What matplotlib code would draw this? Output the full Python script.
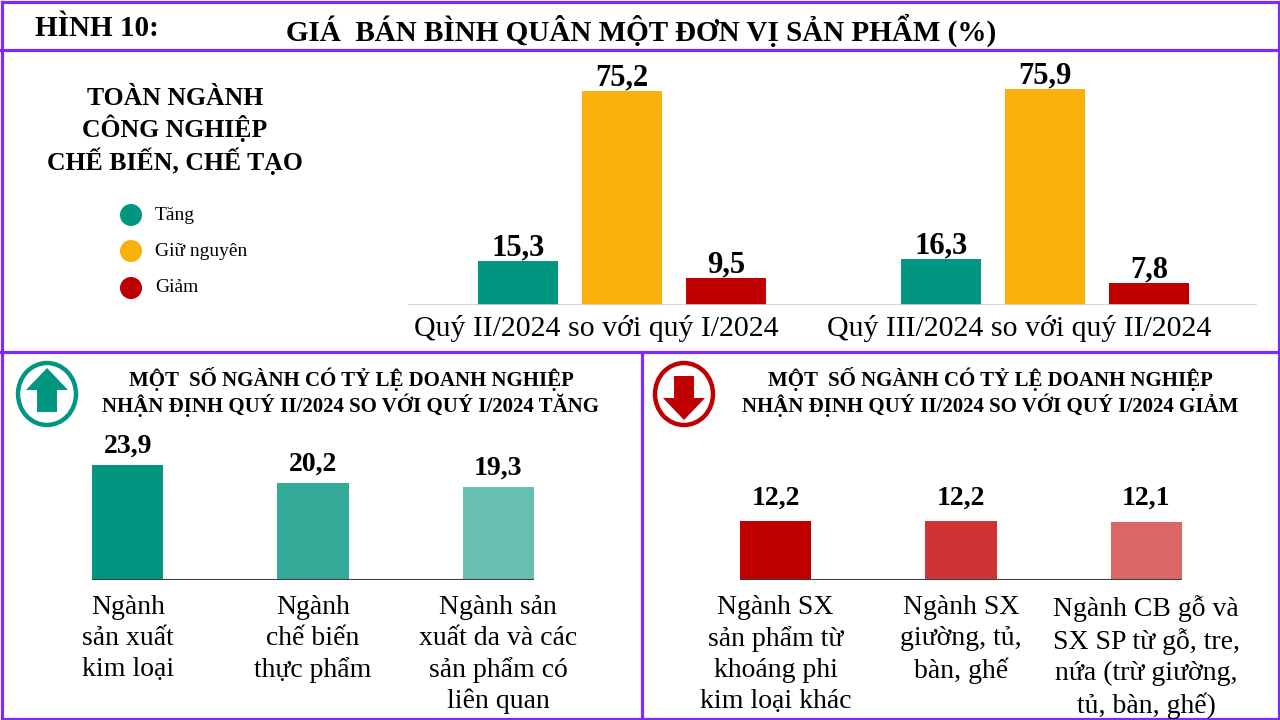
import matplotlib
matplotlib.use("Agg")
import matplotlib.pyplot as plt
from matplotlib.patches import Ellipse, Circle, Polygon
import numpy as np

plt.rcParams['font.family'] = ['Liberation Serif', 'DejaVu Serif']

# ---- data ----
periods = ["Quý II/2024 so với quý I/2024", "Quý III/2024 so với quý II/2024"]
tang = [15.3, 16.3]
giu_nguyen = [75.2, 75.9]
giam = [9.5, 7.8]
series_names = ["Tăng", "Giữ nguyên", "Giảm"]

up_labels = ["Ngành\nsản xuất\nkim loại", "Ngành\nchế biến\nthực phẩm",
             "Ngành sản\nxuất da và các\nsản phẩm có\nliên quan"]
up_values = [23.9, 20.2, 19.3]
down_labels = ["Ngành SX\nsản phẩm từ\nkhoáng phi\nkim loại khác", "Ngành SX\ngiường, tủ,\nbàn, ghế",
               "Ngành CB gỗ và\nSX SP từ gỗ, tre,\nnứa (trừ giường,\ntủ, bàn, ghế)"]
down_values = [12.2, 12.2, 12.1]

TEAL = "#009680"
ORANGE = "#F9B00C"
RED = "#C00000"
PURPLE = "#7A2BFF"
up_colors = ["#009680", "#35AA98", "#66BFB1"]
down_colors = ["#C00000", "#CF3333", "#DA6666"]

W, H = 1280, 720
fig = plt.figure(figsize=(12.8, 7.2), dpi=100)

def px_axes(x0, x1, ytop, ybot):
    return fig.add_axes([x0 / W, (H - ybot) / H, (x1 - x0) / W, (ybot - ytop) / H])

# overlay in pixel coords for frame, titles, icons
ov = fig.add_axes([0, 0, 1, 1])
ov.set_xlim(0, W)
ov.set_ylim(H, 0)
ov.axis("off")
lw = 2.3
ov.plot([1.5, W - 1.5, W - 1.5, 1.5, 1.5], [1.5, 1.5, H - 1.5, H - 1.5, 1.5], color=PURPLE, lw=lw)
ov.plot([0, W], [50, 50], color=PURPLE, lw=lw)
ov.plot([0, W], [352, 352], color=PURPLE, lw=lw)
ov.plot([642, 642], [352, H], color=PURPLE, lw=lw)

ov.text(35, 29, "HÌNH 10:", fontsize=21, fontweight="bold", ha="left", va="center")
ov.text(641, 30, "GIÁ  BÁN BÌNH QUÂN MỘT ĐƠN VỊ SẢN PHẨM (%)", fontsize=21,
        fontweight="bold", ha="center", va="center")

ov.text(175, 131, "TOÀN NGÀNH\nCÔNG NGHIỆP\nCHẾ BIẾN, CHẾ TẠO", fontsize=18.5,
        fontweight="bold", ha="center", va="center", linespacing=1.22)

for name, col, yy in zip(series_names, [TEAL, ORANGE, RED], [215, 251, 288]):
    ov.add_patch(Circle((131, yy), 11, color=col, lw=0))
    ov.text(155, yy, name, fontsize=14, ha="left", va="center")

sub = "MỘT  SỐ NGÀNH CÓ TỶ LỆ DOANH NGHIỆP\nNHẬN ĐỊNH QUÝ II/2024 SO VỚI QUÝ I/2024 "
ov.text(351, 392, sub + "TĂNG", fontsize=15, fontweight="bold", ha="center", va="center",
        linespacing=1.15)
ov.text(990, 392, sub + "GIẢM", fontsize=15, fontweight="bold", ha="center", va="center",
        linespacing=1.15)

def icon(cx, cy, col, up):
    ov.add_patch(Ellipse((cx, cy), 58, 62, fill=False, ec=col, lw=3.2))
    s = -1 if up else 1
    pts = [(cx - 10, cy - 18 * s), (cx + 10, cy - 18 * s), (cx + 10, cy + 4 * s),
           (cx + 21, cy + 4 * s), (cx, cy + 26 * s), (cx - 21, cy + 4 * s), (cx - 10, cy + 4 * s)]
    ov.add_patch(Polygon(pts, closed=True, color=col, lw=0))

icon(47, 394, TEAL, True)
icon(684, 394, RED, False)

# ---- top chart ----
ax = px_axes(408, 1257, 55, 305)
x = np.arange(len(periods))
bw, off = 0.189, 0.246
for vals, col, dx in zip([tang, giu_nguyen, giam], [TEAL, ORANGE, RED], [-off, 0, off]):
    bars = ax.bar(x + dx, vals, width=bw, color=col, zorder=2)
    for b, v in zip(bars, vals):
        ax.annotate(f"{v:.1f}".replace(".", ","), (b.get_x() + b.get_width() / 2, v),
                    xytext=(0, 4), textcoords="offset points", ha="center", va="baseline",
                    fontsize=22, fontweight="bold")
ax.set_xlim(-0.506, 1.501)
ax.set_ylim(0, 87.8)
ax.axhline(0, color="#D0D0D0", lw=1.2, zorder=3)
for xi, lab in zip(x, periods):
    ax.annotate(lab, (xi - 0.062, 0), xycoords=("data", "axes fraction"), xytext=(0, -17),
                textcoords="offset points", ha="center", va="center", fontsize=21.5)
ax.axis("off")

# ---- bottom charts ----
def small_chart(x0, x1, labels, vals, cols, gap):
    a = px_axes(x0, x1, 440, 580)
    xs = np.arange(len(vals))
    w = 0.385
    bars = a.bar(xs, vals, width=w, color=cols, zorder=2)
    for b, v in zip(bars, vals):
        a.annotate(f"{v:.1f}".replace(".", ","), (b.get_x() + w / 2, v), xytext=(0, gap),
                   textcoords="offset points", ha="center", va="baseline",
                   fontsize=20, fontweight="bold")
    for xi, lab in zip(xs, labels):
        a.annotate(lab, (xi, 0), xycoords=("data", "axes fraction"), xytext=(0, -11),
                   textcoords="offset points", ha="center", va="top", fontsize=20,
                   linespacing=1.3)
    a.set_xlim(-w / 2, len(vals) - 1 + w / 2)
    a.set_ylim(0, 29.1)
    a.axhline(0, color="#404040", lw=1.5, zorder=3)
    a.axis("off")

small_chart(92, 534, up_labels, up_values, up_colors, 9)
small_chart(740, 1182, down_labels, down_values, down_colors, 12)

fig.savefig("out.png", dpi=100)
